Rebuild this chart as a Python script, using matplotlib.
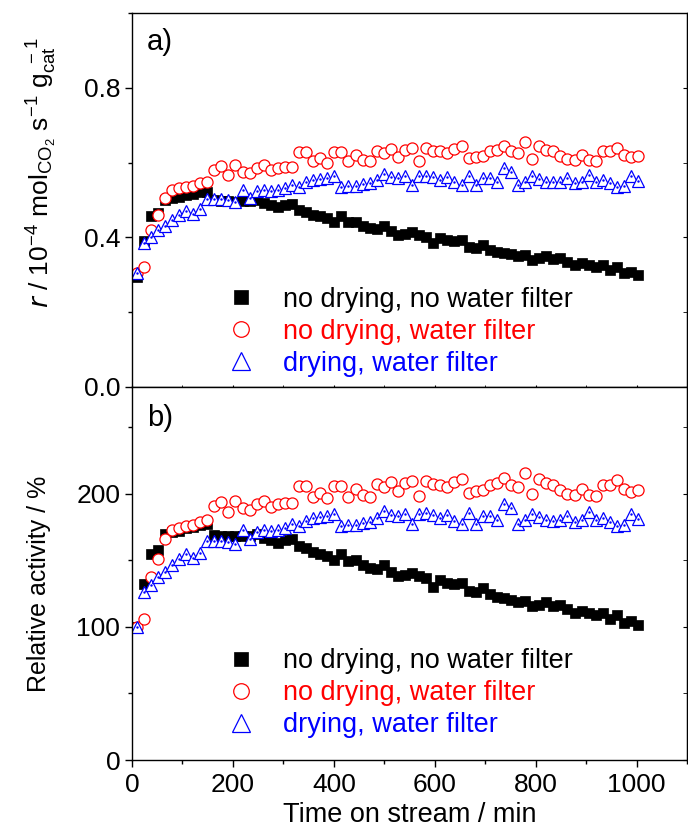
import numpy as np
import matplotlib
matplotlib.use("Agg")
import matplotlib.pyplot as plt
from matplotlib.ticker import MultipleLocator, FormatStrFormatter

plt.rcParams['font.family'] = ['Liberation Sans', 'DejaVu Sans']
plt.rcParams['mathtext.default'] = 'regular'

# time on stream (min)
time = [9, 23, 37, 51, 65, 79, 93, 107, 121, 135, 149, 163, 177, 191, 205, 219, 233, 247,
        261, 275, 289, 303, 317, 331, 345, 359, 373, 387, 401, 415, 429, 443, 457, 471,
        485, 499, 513, 527, 541, 555, 569, 583, 597, 611, 625, 639, 653, 667, 681, 695,
        709, 723, 737, 751, 765, 779, 793, 807, 821, 835, 849, 863, 877, 891, 905, 919,
        933, 947, 961, 975, 989, 1003]

# rate, 10^-4 mol CO2 s^-1 g_cat^-1
rate_no_drying_no_filter = [
    0.295, 0.389, 0.456, 0.466, 0.500, 0.504, 0.508, 0.513, 0.516, 0.520,
    0.522, 0.499, 0.497, 0.496, 0.495, 0.497, 0.497, 0.500, 0.491, 0.487,
    0.481, 0.487, 0.490, 0.474, 0.469, 0.460, 0.456, 0.452, 0.442, 0.456,
    0.440, 0.442, 0.431, 0.425, 0.422, 0.431, 0.416, 0.407, 0.409, 0.414,
    0.407, 0.402, 0.384, 0.398, 0.393, 0.389, 0.393, 0.375, 0.371, 0.380,
    0.367, 0.362, 0.358, 0.355, 0.349, 0.353, 0.340, 0.344, 0.349, 0.342,
    0.344, 0.335, 0.326, 0.331, 0.326, 0.322, 0.326, 0.313, 0.322, 0.304,
    0.308, 0.300]
rate_no_drying_filter = [
    0.305, 0.322, 0.420, 0.460, 0.505, 0.527, 0.532, 0.536, 0.538, 0.545,
    0.549, 0.581, 0.591, 0.567, 0.594, 0.576, 0.572, 0.585, 0.594, 0.579,
    0.585, 0.589, 0.589, 0.628, 0.628, 0.603, 0.612, 0.600, 0.628, 0.627,
    0.603, 0.621, 0.607, 0.603, 0.632, 0.625, 0.637, 0.615, 0.634, 0.639,
    0.605, 0.639, 0.632, 0.630, 0.625, 0.636, 0.643, 0.612, 0.615, 0.618,
    0.630, 0.634, 0.645, 0.630, 0.625, 0.656, 0.609, 0.643, 0.634, 0.630,
    0.618, 0.609, 0.607, 0.621, 0.607, 0.605, 0.630, 0.630, 0.640, 0.621,
    0.614, 0.618]
rate_drying_filter = [
    0.305, 0.384, 0.400, 0.420, 0.430, 0.447, 0.460, 0.471, 0.462, 0.475,
    0.502, 0.502, 0.502, 0.499, 0.494, 0.527, 0.505, 0.523, 0.527, 0.525,
    0.527, 0.532, 0.540, 0.536, 0.547, 0.554, 0.556, 0.558, 0.563, 0.536,
    0.538, 0.538, 0.543, 0.545, 0.554, 0.569, 0.561, 0.558, 0.563, 0.540,
    0.563, 0.565, 0.561, 0.554, 0.561, 0.547, 0.540, 0.565, 0.540, 0.558,
    0.558, 0.549, 0.585, 0.576, 0.540, 0.549, 0.563, 0.556, 0.549, 0.547,
    0.549, 0.558, 0.545, 0.549, 0.567, 0.549, 0.554, 0.545, 0.536, 0.538,
    0.563, 0.552]

labels = ['no drying, no water filter', 'no drying, water filter', 'drying, water filter']
colors = ['black', 'red', 'blue']

rates = [rate_no_drying_no_filter, rate_no_drying_filter, rate_drying_filter]
# relative activity = rate normalised to the first measurement
relative = [np.array(r) / r[0] * 100 for r in rates]

fig = plt.figure(figsize=(6.88, 8.36), dpi=100)
ax1 = fig.add_axes([0.1919, 0.5371, 0.8067, 0.4474])
ax2 = fig.add_axes([0.1919, 0.0909, 0.8067, 0.4462])

FS = 19


def draw(ax, series, leg_y):
    ax.plot(time, series[0], ls='none', marker='s', ms=7.5, mfc='black', mec='black',
            mew=0.5, label=labels[0])
    ax.plot(time, series[1], ls='none', marker='o', ms=8, mfc='white', mec='red',
            mew=0.9, label=labels[1])
    ax.plot(time, series[2], ls='none', marker='^', ms=9, mfc='white', mec='blue',
            mew=0.9, label=labels[2])
    ax.plot(time, series[2], ls='none', marker='.', ms=1.5, color='blue')
    leg = ax.legend(loc='upper left', frameon=False, fontsize=19.5, handlelength=2,
                    handletextpad=0.55, labelspacing=0.22, borderpad=0, markerscale=1.4,
                    borderaxespad=0, bbox_to_anchor=(0.148, leg_y))
    for txt, c in zip(leg.get_texts(), colors):
        txt.set_color(c)
    ax.set_xlim(0, 1100)
    ax.xaxis.set_major_locator(MultipleLocator(200))
    ax.xaxis.set_minor_locator(MultipleLocator(100))
    for s in ax.spines.values():
        s.set_linewidth(1.0)
    ax.tick_params(axis='y', which='both', direction='out', labelsize=FS, width=1)
    ax.tick_params(axis='y', which='major', length=5)
    ax.tick_params(axis='y', which='minor', length=3)
    # short inward ticks on the right spine
    ay = ax.secondary_yaxis('right')
    ay.tick_params(axis='y', which='both', direction='in', length=3, labelright=False)
    ay.yaxis.set_major_locator(ax.yaxis.get_major_locator())
    ay.yaxis.set_minor_locator(ax.yaxis.get_minor_locator())


ax1.set_ylim(0, 1.0)
ax1.yaxis.set_major_locator(MultipleLocator(0.4))
ax1.yaxis.set_minor_locator(MultipleLocator(0.2))
ax1.yaxis.set_major_formatter(FormatStrFormatter('%.1f'))
ax2.set_ylim(0, 280)
ax2.yaxis.set_major_locator(MultipleLocator(100))
ax2.yaxis.set_minor_locator(MultipleLocator(50))

draw(ax1, rates, 0.268)
draw(ax2, relative, 0.30)

ax1.tick_params(axis='x', which='both', direction='in', length=1.5, labelbottom=False)
ax2.tick_params(axis='x', which='both', direction='out', labelsize=FS, width=1)
ax2.tick_params(axis='x', which='major', length=5, pad=4)
ax2.tick_params(axis='x', which='minor', length=3)
ax2.set_xlabel('Time on stream / min', fontsize=19.5, labelpad=4)

ax1.text(0.027, 0.96, 'a)', transform=ax1.transAxes, fontsize=21, va='top')
ax2.text(0.027, 0.955, 'b)', transform=ax2.transAxes, fontsize=21, va='top')

fig.text(0.061, 0.794,
         r'$\mathit{r}$ / 10$^{-4}$ mol$_{\mathregular{CO_2}}$ s$^{-1}$ g$_{\mathregular{cat}}^{\ -1}$',
         rotation=90, ha='center', va='center', fontsize=19)
fig.text(0.056, 0.301, 'Relative activity / %', rotation=90, ha='center', va='center',
         fontsize=18)

fig.savefig('out.png', dpi=100)
